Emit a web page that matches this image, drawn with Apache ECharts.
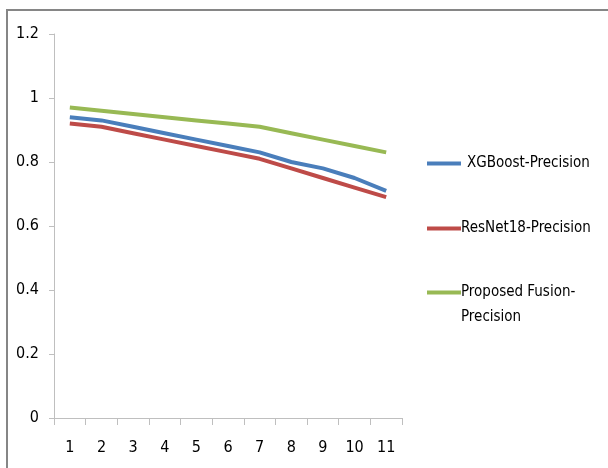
<!DOCTYPE html>
<html>
<head>
<meta charset="utf-8">
<script src="https://cdn.jsdelivr.net/npm/echarts@6/dist/echarts.min.js"></script>
<style>
html,body{margin:0;padding:0;background:#fff;}
#chart{width:608px;height:468px;}
</style>
</head>
<body>
<div id="chart"></div>
<script>
const categories = ['1','2','3','4','5','6','7','8','9','10','11'];
const xgboost = [0.94,0.93,0.91,0.89,0.87,0.85,0.83,0.80,0.78,0.75,0.71];
const resnet = [0.92,0.91,0.89,0.87,0.85,0.83,0.81,0.78,0.75,0.72,0.69];
const fusion = [0.97,0.96,0.95,0.94,0.93,0.92,0.91,0.89,0.87,0.85,0.83];
const seriesNames = ['XGBoost-Precision','ResNet18-Precision','Proposed Fusion-Precision'];
const colors = ['#4A7EBB','#BE4B48','#98B954'];

const FONT = "'DejaVu Sans Condensed',sans-serif";
const chart = echarts.init(document.getElementById('chart'));

function legendAt(name, top, textStyle, extra) {
  return Object.assign({
    data: [name],
    orient: 'vertical',
    left: 427,
    top: top,
    padding: 0,
    itemWidth: 34,
    itemHeight: 4,
    itemGap: 0,
    icon: 'rect',
    selectedMode: false,
    textStyle: Object.assign({fontFamily: FONT, fontSize: 15, color: '#000'}, textStyle)
  }, extra || {});
}

chart.setOption({
  animation: false,
  color: colors,
  graphic: [{
    type: 'rect',
    shape: {x: 7, y: 10, width: 700, height: 600},
    style: {fill: 'none', stroke: '#868686', lineWidth: 2},
    silent: true
  }],
  grid: {left: 54, right: 206, top: 34, bottom: 50, containLabel: false},
  legend: [
    legendAt(seriesNames[0], 156, {padding: [0,0,0,1]}),
    legendAt(seriesNames[1], 221, {padding: [0,0,0,-5]}),
    legendAt(seriesNames[2], 255, {lineHeight: 25, padding: [0,0,0,-5]}, {
      formatter: function(){ return ' \nProposed Fusion-\nPrecision'; }
    })
  ],
  xAxis: {
    type: 'category',
    data: categories,
    boundaryGap: true,
    axisLine: {lineStyle: {color: '#BFBFBF', width: 1}},
    axisTick: {show: true, length: 7, lineStyle: {color: '#BFBFBF'}},
    axisLabel: {fontFamily: FONT, fontSize: 16, color: '#000', margin: 22}
  },
  yAxis: {
    type: 'value',
    min: 0, max: 1.2, interval: 0.2,
    axisLine: {show: true, lineStyle: {color: '#BFBFBF', width: 1}},
    axisTick: {show: true, length: 5, lineStyle: {color: '#BFBFBF'}},
    splitLine: {show: false},
    axisLabel: {fontFamily: FONT, fontSize: 16, color: '#000', margin: 15}
  },
  series: [
    {name: seriesNames[0], type: 'line', data: xgboost, symbol: 'none', lineStyle: {width: 4, color: colors[0]}},
    {name: seriesNames[1], type: 'line', data: resnet, symbol: 'none', lineStyle: {width: 4, color: colors[1]}},
    {name: seriesNames[2], type: 'line', data: fusion, symbol: 'none', lineStyle: {width: 4, color: colors[2]}}
  ]
});
</script>
</body>
</html>
